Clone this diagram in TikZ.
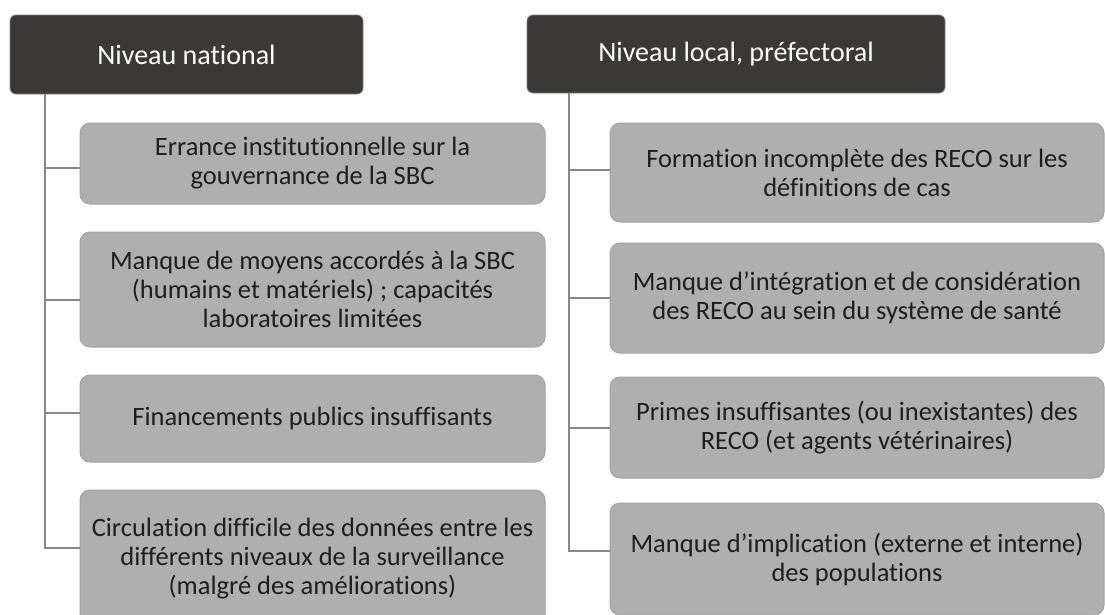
\documentclass[tikz,border=0pt]{standalone}
\usepackage{fontspec}
\setmainfont{Carlito}[Ligatures={NoCommon,NoContextual}]
\definecolor{hdrfill}{HTML}{3A3937}
\definecolor{hdrline}{HTML}{808080}
\definecolor{boxfill}{HTML}{AFAFAF}
\definecolor{boxline}{HTML}{A4A4A4}
\definecolor{conn}{HTML}{888888}
\definecolor{txt}{HTML}{1E1E1E}
\tikzset{
  hdr/.style={draw=hdrline, line width=0.8pt, fill=hdrfill, rounded corners=6pt,
    text=white, font=\fontsize{28}{32}\selectfont, inner sep=0pt, align=center},
  item/.style={draw=boxline, line width=1pt, fill=boxfill, rounded corners=10pt,
    text=txt, font=\fontsize{26.5}{29}\selectfont, inner sep=0pt, align=center},
  link/.style={draw=conn, line width=2.8pt}
}
\begin{document}
\begin{tikzpicture}[x=1pt,y=-1pt]
\useasboundingbox (0,0) rectangle (1105,614);
\clip (0,0) rectangle (1105,614);
\fill[white] (0,0) rectangle (1105,614);
% headers
\node[hdr, minimum width=353pt, minimum height=79pt] (hL) at (186.5,54.5) {Niveau national};
\node[hdr, minimum width=418pt, minimum height=78pt] (hR) at (736,54) {Niveau local, préfectoral};
% left boxes
\node[item, minimum width=465pt, minimum height=81pt] (L1) at (312.5,163.5)
  {Errance institutionnelle sur la\\gouvernance de la SBC};
\node[item, minimum width=465pt, minimum height=115pt] (L2) at (312.5,289.5)
  {Manque de moyens accordés à la SBC\\(humains et matériels) ; capacités\\laboratoires limitées};
\node[item, minimum width=465pt, minimum height=87pt] (L3) at (312.5,418.5)
  {Financements publics insuffisants};
\node[item, minimum width=465pt, minimum height=138pt] (L4) at (312.5,559)
  {Circulation difficile des données entre les\\différents niveaux de la surveillance\\(malgré des améliorations)};
% right boxes
\node[item, minimum width=494pt, minimum height=99pt] (R1) at (857,172.5)
  {Formation incomplète des RECO sur les\\définitions de cas};
\node[item, minimum width=494pt, minimum height=110pt] (R2) at (857,298)
  {Manque d’intégration et de considération\\des RECO au sein du système de santé};
\node[item, minimum width=494pt, minimum height=101pt] (R3) at (857,427.5)
  {Primes insuffisantes (ou inexistantes) des\\RECO (et agents vétérinaires)};
\node[item, minimum width=494pt, minimum height=112pt] (R4) at (857,559)
  {Manque d’implication (externe et interne)\\des populations};
% trunk coordinates
\coordinate (tL0) at (45,94);
\coordinate (tL1) at (45,168);
\coordinate (tL2) at (45,300);
\coordinate (tL3) at (45,413);
\coordinate (tL4) at (45,548);
\coordinate (tR0) at (569,93);
\coordinate (tR1) at (569,170);
\coordinate (tR2) at (569,298);
\coordinate (tR3) at (569,428);
\coordinate (tR4) at (569,551);
% connectors
\draw[link] (tL0) -- (tL4) -- (L4.west |- tL4);
\draw[link] (tL1) -- (L1.west |- tL1);
\draw[link] (tL2) -- (L2.west |- tL2);
\draw[link] (tL3) -- (L3.west |- tL3);
\draw[link] (tR0) -- (tR4) -- (R4.west |- tR4);
\draw[link] (tR1) -- (R1.west |- tR1);
\draw[link] (tR2) -- (R2.west |- tR2);
\draw[link] (tR3) -- (R3.west |- tR3);
\end{tikzpicture}
\end{document}
